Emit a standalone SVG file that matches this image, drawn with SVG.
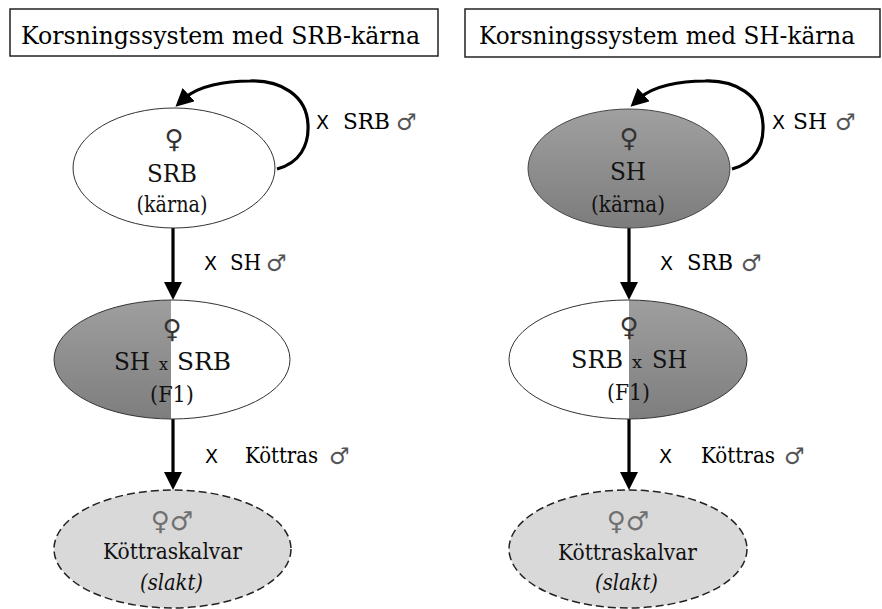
<svg xmlns="http://www.w3.org/2000/svg" width="882" height="609" viewBox="0 0 882 609">
<style>
.title{font-family:'DejaVu Serif',serif;font-size:25px;fill:#000}
.box{fill:#fff;stroke:#222;stroke-width:1.5}
.node{font-family:'DejaVu Serif',serif;fill:#111}
.c{text-anchor:middle}
.big{font-size:24px}
.sub{font-size:22.5px}
.sx{font-size:17px}
.sym{font-family:'DejaVu Sans',sans-serif;font-size:26px;fill:#333;text-anchor:middle}
.sym2{font-family:'DejaVu Sans',sans-serif;font-size:26px;fill:#707070;text-anchor:middle}
.edge{fill:none;stroke:#000;stroke-width:3.2}
.lx{font-family:'DejaVu Sans',sans-serif;font-size:19px;fill:#000}
.lt{font-family:'DejaVu Serif',serif;font-size:22.5px;fill:#000}
.ls{font-family:'DejaVu Sans',sans-serif;font-size:23px;fill:#555}
.outline{fill:none;stroke:#333;stroke-width:1}
.dash{fill:#d9d9d9;stroke:#222;stroke-width:1.5;stroke-dasharray:8 4}
</style>
<defs>
<linearGradient id="grey" x1="0" y1="0" x2="0" y2="1">
<stop offset="0" stop-color="#a0a0a0"/>
<stop offset="1" stop-color="#7c7c7c"/>
</linearGradient>
<marker id="arr" viewBox="0 0 18 18" markerUnits="userSpaceOnUse" markerWidth="18" markerHeight="18" refX="5" refY="9" orient="auto">
<path d="M0,0 L18,9 L0,18 z" fill="#000"/>
</marker>
<clipPath id="clipL"><ellipse cx="172" cy="359.5" rx="118" ry="59.5"/></clipPath>
<clipPath id="clipR"><ellipse cx="628" cy="359.5" rx="119" ry="59.5"/></clipPath>
</defs>

<g id="title-left">
<rect class="box" x="10" y="9" width="428" height="47"/>
<text class="title" x="21" y="44" textLength="399" lengthAdjust="spacingAndGlyphs">Korsningssystem med SRB-kärna</text>
</g>
<g id="title-right">
<rect class="box" x="465" y="9" width="415" height="48"/>
<text class="title" x="479" y="44" textLength="376" lengthAdjust="spacingAndGlyphs">Korsningssystem med SH-kärna</text>
</g>

<g id="connectors">
<path class="edge" d="M277,169 C300,163 309,145 308,125 C307,95 280,80 250,81 C225,81 198,86 185,98" marker-end="url(#arr)"/>
<path class="edge" d="M173,228 L173,287" marker-end="url(#arr)"/>
<path class="edge" d="M173,419 L173,477" marker-end="url(#arr)"/>
<path class="edge" d="M732,169 C755,163 764,145 763,125 C762,95 735,80 705,81 C680,81 653,86 640,98" marker-end="url(#arr)"/>
<path class="edge" d="M629,228 L629,287" marker-end="url(#arr)"/>
<path class="edge" d="M629,419 L629,477" marker-end="url(#arr)"/>
<text class="lx" x="316" y="129">X</text>
<text class="lt" x="343" y="129" textLength="47" lengthAdjust="spacingAndGlyphs">SRB</text>
<text class="ls" x="396" y="130">♂</text>
<text class="lx" x="204" y="270">X</text>
<text class="lt" x="230" y="270" textLength="31" lengthAdjust="spacingAndGlyphs">SH</text>
<text class="ls" x="266" y="271">♂</text>
<text class="lx" x="205" y="463">X</text>
<text class="lt" x="245" y="463" textLength="73" lengthAdjust="spacingAndGlyphs">Köttras</text>
<text class="ls" x="329" y="464">♂</text>
<text class="lx" x="772" y="129">X</text>
<text class="lt" x="793" y="129" textLength="34" lengthAdjust="spacingAndGlyphs">SH</text>
<text class="ls" x="835" y="130">♂</text>
<text class="lx" x="660" y="270">X</text>
<text class="lt" x="687" y="270" textLength="46" lengthAdjust="spacingAndGlyphs">SRB</text>
<text class="ls" x="741" y="271">♂</text>
<text class="lx" x="659" y="463">X</text>
<text class="lt" x="701" y="463" textLength="74" lengthAdjust="spacingAndGlyphs">Köttras</text>
<text class="ls" x="784" y="464">♂</text>
</g>

<g id="srb-core">
<ellipse cx="174" cy="168" rx="101" ry="60" fill="#fff" stroke="#333" stroke-width="1"/>
<text class="sym" x="174" y="148">♀</text>
<text class="node big c" x="172" y="182" textLength="50" lengthAdjust="spacingAndGlyphs">SRB</text>
<text class="node sub c" x="172" y="212" textLength="71" lengthAdjust="spacingAndGlyphs">(kärna)</text>
</g>

<g id="f1-left">
<ellipse cx="172" cy="359.5" rx="118" ry="59.5" fill="#fff"/>
<rect x="50" y="295" width="121" height="130" fill="url(#grey)" clip-path="url(#clipL)"/>
<ellipse class="outline" cx="172" cy="359.5" rx="118" ry="59.5"/>
<text class="sym" x="172" y="338">♀</text>
<text class="node big" x="114" y="370" textLength="36" lengthAdjust="spacingAndGlyphs">SH</text>
<text class="node sx" x="159" y="370" textLength="9" lengthAdjust="spacingAndGlyphs">x</text>
<text class="node big" x="177" y="370" textLength="54" lengthAdjust="spacingAndGlyphs">SRB</text>
<text class="node sub c" x="172" y="402" textLength="44" lengthAdjust="spacingAndGlyphs">(F1)</text>
</g>

<g id="calves-left">
<ellipse class="dash" cx="172.5" cy="549" rx="118.5" ry="59"/>
<text class="sym2" x="172" y="530">♀♂</text>
<text class="node sub c" x="172.5" y="559" textLength="139" lengthAdjust="spacingAndGlyphs">Köttraskalvar</text>
<text class="node sub c" x="171.5" y="590" font-style="italic" textLength="63" lengthAdjust="spacingAndGlyphs">(slakt)</text>
</g>

<g id="sh-core">
<ellipse cx="629" cy="168.5" rx="101" ry="59.5" fill="url(#grey)" stroke="#444" stroke-width="1"/>
<text class="sym" x="629" y="147">♀</text>
<text class="node big c" x="628" y="180" textLength="36" lengthAdjust="spacingAndGlyphs">SH</text>
<text class="node sub c" x="628" y="212" textLength="74" lengthAdjust="spacingAndGlyphs">(kärna)</text>
</g>

<g id="f1-right">
<ellipse cx="628" cy="359.5" rx="119" ry="59.5" fill="#fff"/>
<rect x="629" y="295" width="125" height="130" fill="url(#grey)" clip-path="url(#clipR)"/>
<ellipse class="outline" cx="628" cy="359.5" rx="119" ry="59.5"/>
<text class="sym" x="629" y="336">♀</text>
<text class="node big" x="571" y="368" textLength="52" lengthAdjust="spacingAndGlyphs">SRB</text>
<text class="node sx" x="632" y="368" textLength="10" lengthAdjust="spacingAndGlyphs">x</text>
<text class="node big" x="652" y="368" textLength="35" lengthAdjust="spacingAndGlyphs">SH</text>
<text class="node sub c" x="628.5" y="400" textLength="43" lengthAdjust="spacingAndGlyphs">(F1)</text>
</g>

<g id="calves-right">
<ellipse class="dash" cx="628" cy="549" rx="119" ry="59"/>
<text class="sym2" x="628" y="530">♀♂</text>
<text class="node sub c" x="627.5" y="560" textLength="139" lengthAdjust="spacingAndGlyphs">Köttraskalvar</text>
<text class="node sub c" x="626.5" y="590" font-style="italic" textLength="63" lengthAdjust="spacingAndGlyphs">(slakt)</text>
</g>
</svg>
